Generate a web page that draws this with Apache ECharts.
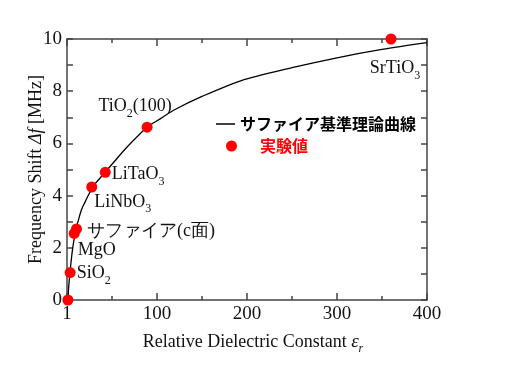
<!DOCTYPE html>
<html><head><meta charset="utf-8">
<script src="https://cdn.jsdelivr.net/npm/echarts@6/dist/echarts.min.js"></script>
<style>html,body{margin:0;padding:0;background:#fff}#c{width:512px;height:384px}</style>
</head><body><div id="c"></div>
<script>
// Data
const materials = ['', 'SiO2', 'MgO', 'サファイア(c面)', 'LiNbO3', 'LiTaO3', 'TiO2(100)', 'SrTiO3'];
const materialLabels = ['', '{m|SiO}{s|2}', '{m|MgO}', '{m|サファイア(c面)}', '{m|LiNbO}{s|3}', '{m|LiTaO}{s|3}', '{m|TiO}{s|2}{m|(100)}', '{m|SrTiO}{s|3}'];
const epsR = [1, 3.5, 8, 10.5, 27.5, 42.5, 89, 360];
const shift = [0, 1.05, 2.55, 2.72, 4.33, 4.89, 6.62, 10.0];
const curveEps = [1, 1.5, 2, 3, 4, 6, 8, 10, 13, 16, 20, 25, 30, 40, 50, 67, 89, 104, 119, 150, 193, 250, 300, 350, 400];
const curveShift = [0, 0.3, 0.55, 0.95, 1.3, 1.9, 2.35, 2.72, 3.1, 3.45, 3.75, 4.1, 4.4, 4.8, 5.2, 5.87, 6.62, 6.95, 7.28, 7.8, 8.4, 8.9, 9.28, 9.6, 9.86];
const xTickLabels = {0: '1', 100: '100', 200: '200', 300: '300', 400: '400'};
const yTickLabels = {0: '0', 2: '2', 4: '4', 6: '6', 8: '8', 10: '10'};

// label placement (style, not data)
const labelPlace = [
  null,
  {position: 'right', offset: [-3, 1]},
  {position: 'right', offset: [-6, 17]},
  {position: 'right', offset: [1, 2]},
  {position: 'right', offset: [-7, 15]},
  {position: 'right', offset: [-3, 2]},
  {position: 'top', offset: [-12, -1]},
  {position: 'bottom', offset: [4, 10]}
];

const serif = 'Liberation Serif';
const ink = '#111';
const rich = {
  m: {fontFamily: serif, fontSize: 18, color: ink, lineHeight: 20},
  s: {fontFamily: serif, fontSize: 12, color: ink, lineHeight: 12, verticalAlign: 'bottom', padding: [0,0,-3,0]}
};

const scatterData = epsR.map((e, i) => {
  const d = {value: [e, shift[i]], name: materials[i]};
  if (labelPlace[i]) {
    d.label = {show: true, position: labelPlace[i].position, offset: labelPlace[i].offset,
      formatter: materialLabels[i], rich: rich, distance: 4};
  }
  return d;
});

const axisLine = {show: true, onZero: false, lineStyle: {color: '#444', width: 1.5}};
const xTick = {show: true, inside: true, length: 7, lineStyle: {color: '#444', width: 1.5}};
const xMinor = {show: true, splitNumber: 2, length: 4, lineStyle: {color: '#444', width: 1.5}};
const yTick = {show: true, inside: true, length: 6, lineStyle: {color: '#444', width: 1.5}};

const chart = echarts.init(document.getElementById('c'));
chart.setOption({
  animation: false,
  backgroundColor: '#fff',
  grid: {left: 67, right: 85, top: 39, bottom: 84},
  legend: [
    {data: [{name: 'サファイア基準理論曲線', icon: 'rect'}], left: 216, top: 116, padding: 0, itemWidth: 19, itemHeight: 1.5,
     textStyle: {fontFamily: 'Noto Sans CJK JP', fontWeight: 'bold', fontSize: 16, color: '#000'}},
    {data: [{name: '実験値', icon: 'circle'}], left: 226, top: 138, padding: 0, itemWidth: 11, itemHeight: 11,
     textStyle: {fontFamily: 'Noto Sans CJK JP', fontWeight: 'bold', fontSize: 16, color: '#ff0000', padding: [0,0,0,18]}}
  ],
  xAxis: [
    {type: 'value', min: 0, max: 400, interval: 100, position: 'bottom',
     axisLine: axisLine, axisTick: xTick, minorTick: xMinor, splitLine: {show: false},
     axisLabel: {fontFamily: serif, fontSize: 19, color: ink, margin: 5,
       formatter: v => (xTickLabels[v] !== undefined ? xTickLabels[v] : '')},
     name: '{t|Relative Dielectric Constant }{i|ε}{r|r}', nameLocation: 'middle', nameGap: 32,
     nameTextStyle: {padding: [0,0,0,12], rich: {
       t: {fontFamily: serif, fontSize: 18, color: ink, lineHeight: 20},
       i: {fontFamily: serif, fontSize: 19, fontStyle: 'italic', color: ink, lineHeight: 20},
       r: {fontFamily: serif, fontSize: 12, fontStyle: 'italic', color: ink, lineHeight: 12, verticalAlign: 'bottom', padding: [0,0,-3,0]}
     }}},
    {type: 'value', min: 0, max: 400, interval: 100, position: 'top',
     axisLine: axisLine, axisTick: xTick, minorTick: xMinor, axisLabel: {show: false}, splitLine: {show: false}}
  ],
  yAxis: [
    {type: 'value', min: 0, max: 10, interval: 1, position: 'left',
     axisLine: axisLine, axisTick: yTick, splitLine: {show: false},
     axisLabel: {fontFamily: serif, fontSize: 19, color: ink, margin: 5,
       formatter: v => (yTickLabels[v] !== undefined ? yTickLabels[v] : '')},
     name: '{t|Frequency Shift }{i|Δf}{t| [MHz]}', nameLocation: 'middle', nameGap: 22, nameRotate: 90,
     nameMoveOverlap: false,
     nameTextStyle: {rich: {
       t: {fontFamily: serif, fontSize: 18, color: ink},
       i: {fontFamily: serif, fontSize: 18, fontStyle: 'italic', color: ink}
     }}},
    {type: 'value', min: 0, max: 10, interval: 1, position: 'right',
     axisLine: axisLine, axisTick: yTick, axisLabel: {show: false}, splitLine: {show: false}}
  ],
  series: [
    {name: 'サファイア基準理論曲線', type: 'line', symbol: 'none', smooth: 0.3,
     data: curveEps.map((e, i) => [e, curveShift[i]]),
     lineStyle: {color: '#000', width: 1.3}, itemStyle: {color: '#000'}, z: 2},
    {name: '実験値', type: 'scatter', symbol: 'circle', symbolSize: 11,
     itemStyle: {color: '#ff0000', opacity: 1}, data: scatterData, z: 3}
  ]
});
</script>
</body></html>
